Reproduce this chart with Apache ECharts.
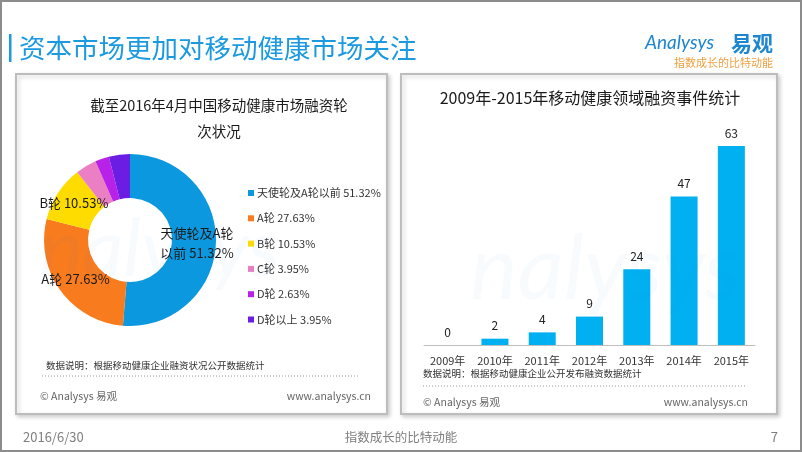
<!DOCTYPE html>
<html>
<head>
<meta charset="utf-8">
<script src="https://cdn.jsdelivr.net/npm/echarts@6/dist/echarts.min.js"></script>
<style>
    html, body {margin: 0; padding: 0; background: #fff;}
    #main {width: 802px; height: 452px;}
</style>
</head>
<body>
<div id="main"></div>
<script>
    // 融资轮次占比 (%)
    var roundNames = ['天使轮及A轮以前', 'A轮', 'B轮', 'C轮', 'D轮', 'D轮以上'];
    var roundShares = [51.32, 27.63, 10.53, 3.95, 2.63, 3.95];
    // 融资事件数
    var years = ['2009年', '2010年', '2011年', '2012年', '2013年', '2014年', '2015年'];
    var eventCounts = [0, 2, 4, 9, 24, 47, 63];

    var roundColors = ['#0c98df', '#f87b1e', '#fedc00', '#ea80c3', '#b822e8', '#6c1de3'];
    var cjk = '"Noto Sans CJK SC", "Microsoft YaHei", sans-serif';

    var myChart = echarts.init(document.getElementById('main'));

    function txt(text, x, y, size, color, align, extra) {
        var el = {
            type: 'text', x: x, y: y, z: 10,
            style: {
                text: text, fill: color, fontSize: size, fontFamily: cjk,
                textAlign: align || 'left', textVerticalAlign: 'middle'
            }
        };
        if (extra) {
            for (var k in extra) el.style[k] = extra[k];
        }
        return el;
    }

    var pieData = roundNames.map(function (n, i) {
        return {
            name: n,
            value: roundShares[i],
            itemStyle: {color: roundColors[i]},
            label: {show: roundShares[i] >= 10}
        };
    });

    var panelStyle = {
        fill: '#fff', stroke: '#bdbdbd', lineWidth: 2,
        shadowColor: 'rgba(0,0,0,0.18)', shadowBlur: 4, shadowOffsetX: 2, shadowOffsetY: 2
    };
    var wmStyle = {fontStyle: 'italic', fontFamily: 'Lato, sans-serif'};

    option = {
        backgroundColor: '#fff',
        animation: false,
        textStyle: {fontFamily: cjk},
        graphic: [
            // 外框
            {type: 'rect', z: 0, shape: {x: 1, y: 1, width: 800, height: 450},
                style: {fill: 'none', stroke: '#8c8c8c', lineWidth: 2}},
            // 标题
            {type: 'rect', z: 1, shape: {x: 9, y: 34, width: 2.5, height: 28}, style: {fill: '#1b9ae0'}},
            txt('资本市场更加对移动健康市场关注', 19, 48, 26.5, '#1b9ae0'),
            // logo
            txt('Analysys', 645, 43, 19, '#1c86d0', 'left', wmStyle),
            txt('易观', 731, 43, 21, '#1c86d0', 'left', {fontWeight: 'bold'}),
            txt('指数成长的比特动能', 773, 63, 11, '#f0a040', 'right'),
            // 面板
            {type: 'rect', z: 0, shape: {x: 16, y: 74, width: 371, height: 340}, style: panelStyle},
            {type: 'rect', z: 0, shape: {x: 401, y: 74, width: 376, height: 340}, style: panelStyle},
            // 水印
            txt('nalysys', 40, 250, 80, 'rgba(40,150,215,0.035)', 'left', wmStyle),
            txt('nalysys', 470, 270, 90, 'rgba(40,150,215,0.035)', 'left', wmStyle),
            // 左图
            txt('截至2016年4月中国移动健康市场融资轮', 219, 105, 14.5, '#1a1a1a', 'center'),
            txt('次状况', 219, 131, 14.5, '#1a1a1a', 'center'),
            txt('数据说明：根据移动健康企业融资状况公开数据统计', 46, 365, 9.5, '#333'),
            {type: 'line', z: 10, shape: {x1: 42, y1: 376, x2: 360, y2: 376},
                style: {stroke: '#9a9a9a', lineWidth: 1, lineDash: [1, 2]}},
            txt('© Analysys 易观', 40, 396, 10.5, '#666'),
            txt('www.analysys.cn', 371, 396, 10.5, '#666', 'right'),
            // 右图
            txt('2009年-2015年移动健康领域融资事件统计', 590, 98, 16, '#1a1a1a', 'center'),
            txt('数据说明：根据移动健康企业公开发布融资数据统计', 423, 373, 9.5, '#333'),
            {type: 'line', z: 10, shape: {x1: 423, y1: 386, x2: 747, y2: 386},
                style: {stroke: '#9a9a9a', lineWidth: 1, lineDash: [1, 2]}},
            txt('© Analysys 易观', 423, 402, 10.5, '#666'),
            txt('www.analysys.cn', 748, 402, 10.5, '#666', 'right'),
            // 页脚
            txt('2016/6/30', 23, 437, 13, '#7f7f7f'),
            txt('指数成长的比特动能', 401, 437, 12.5, '#7f7f7f', 'center'),
            txt('7', 778, 437, 13, '#7f7f7f', 'right')
        ],
        legend: {
            orient: 'vertical',
            left: 243,
            top: 181,
            itemWidth: 6,
            itemHeight: 6,
            itemGap: 11.3,
            icon: 'rect',
            data: roundNames,
            formatter: function (name) {
                return name + ' ' + roundShares[roundNames.indexOf(name)].toFixed(2) + '%';
            },
            textStyle: {fontSize: 11, color: '#333', lineHeight: 14, padding: [0, 0, 0, -2]}
        },
        grid: {left: 424, width: 331, top: 124, bottom: 107},
        xAxis: {
            type: 'category',
            data: years,
            axisLine: {lineStyle: {color: '#bfbfbf', width: 1}},
            axisTick: {show: false},
            axisLabel: {fontSize: 11, color: '#333', margin: 10, interval: 0}
        },
        yAxis: {
            type: 'value', min: 0, max: 70, show: false,
            splitLine: {show: false}
        },
        series: [
            {
                name: '融资轮次',
                type: 'pie',
                center: [130, 240],
                radius: [42, 86],
                startAngle: 90,
                clockwise: true,
                data: pieData,
                label: {
                    position: 'inside',
                    fontSize: 13,
                    color: '#1a1a1a',
                    lineHeight: 20,
                    formatter: function (p) {
                        var t = p.value.toFixed(2) + '%';
                        if (p.dataIndex === 0) return '天使轮及A轮\n以前 ' + t;
                        return p.name + ' ' + t;
                    }
                },
                labelLine: {show: false},
                emphasis: {disabled: true}
            },
            {
                name: '融资事件',
                type: 'bar',
                data: eventCounts,
                barWidth: 27,
                itemStyle: {color: '#00b0f0'},
                label: {show: true, position: 'top', distance: 7, fontSize: 12, color: '#222'}
            }
        ]
    };

    myChart.setOption(option);
</script>
</body>
</html>
